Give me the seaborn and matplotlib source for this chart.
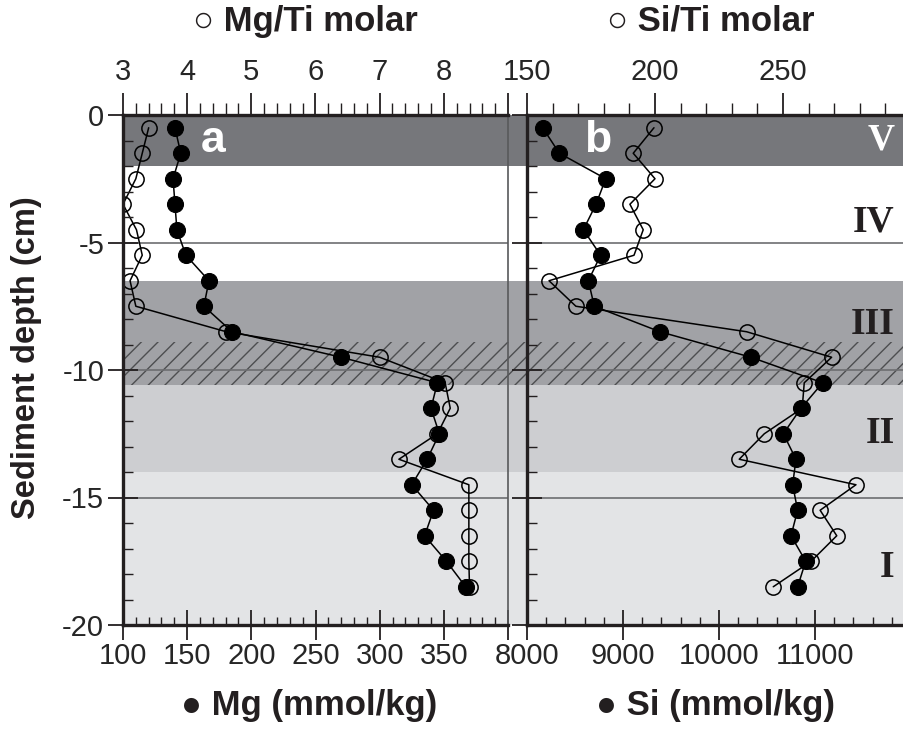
import matplotlib
matplotlib.use('Agg')
import pandas as pd
import matplotlib.pyplot as plt
import seaborn as sns
from matplotlib.ticker import MultipleLocator

sns.set_theme(style='white')
plt.rcParams['font.family'] = ['Liberation Sans', 'DejaVu Sans']
plt.rcParams['axes.unicode_minus'] = False
plt.rcParams['hatch.linewidth'] = 1.0

# profundidade das amostras (cm)
depth = [-0.5, -1.5, -2.5, -3.5, -4.5, -5.5, -6.5, -7.5, -8.5, -9.5,
         -10.5, -11.5, -12.5, -13.5, -14.5, -15.5, -16.5, -17.5, -18.5]

# painel a
mg = [140.5, 145, 139, 140.5, 142, 149, 167, 163, 185, 270,
      345, 340, 346.5, 337, 325, 342, 335, 352, 367]
mg_ti = [3.4, 3.3, 3.2, 3.0, 3.21, 3.3, 3.11, 3.2, 4.61, 7.0,
         8.02, 8.1, 7.9, 7.3, 8.39, 8.39, 8.39, 8.39, 8.4]

# painel b
si = [8163, 8337, 8820, 8719, 8587, 8767, 8639, 8701, 9385, 10333,
      11080, 10854, 10670, 10802, 10767, 10819, 10750, 10903, 10819]
si_ti = [199.6, 191.5, 200, 190.2, 195.4, 191.8, 158.6, 169.1, 235.8, 269,
         258.3, 257.5, 242.7, 232.9, 278.5, 264.5, 271, 261, 246.2]

# zonas
zone_names = ['V', 'IV', 'III', 'II', 'I']
zone_top = [0, -2, -6.5, -10.6, -14]
zone_bottom = [-2, -6.5, -10.6, -14, -20]
zone_label_depth = [-1.0, -4.2, -8.2, -12.5, -17.75]
hatch_top, hatch_bottom = -8.9, -10.6
grid_depths = [-5, -10, -15]

zone_colors = ['#76777b', '#ffffff', '#a1a2a6', '#cdced1', '#e3e4e6']

df_a = pd.DataFrame({'depth': depth, 'mg': mg, 'mg_ti': mg_ti})
df_b = pd.DataFrame({'depth': depth, 'si': si, 'si_ti': si_ti})

fig = plt.figure(figsize=(9.04, 7.30), dpi=100)
W, H = 904, 730
ax_a = fig.add_axes([123 / W, 105 / H, 385 / W, 510 / H])
ax_b = fig.add_axes([527 / W, 105 / H, 384 / W, 510 / H])
top_a = ax_a.twiny()
top_b = ax_b.twiny()

for ax, top in [(ax_a, top_a), (ax_b, top_b)]:
    ax.set_zorder(top.get_zorder() + 1)
    ax.patch.set_visible(False)

# fundo com as zonas (o painel a se estende pelo espaco entre os paineis)
gap_ext = (527 - 123) / 385
for top, xmax in [(top_a, gap_ext), (top_b, 1)]:
    for y0, y1, c in zip(zone_top, zone_bottom, zone_colors):
        top.axhspan(y1, y0, xmin=0, xmax=xmax, color=c, lw=0, clip_on=False, zorder=0)
    top.axhspan(hatch_bottom, hatch_top, xmin=0, xmax=xmax, facecolor='none',
                edgecolor='#4d4e50', hatch='//', lw=0, clip_on=False, zorder=0.5)
    for g in grid_depths:
        top.axhline(g, color='#6d6e71', lw=1.2, zorder=0.6)

open_kws = dict(color='black', lw=1.1, marker='o', markersize=11,
                markerfacecolor='none', markeredgecolor='black', markeredgewidth=1.1)
fill_kws = dict(color='black', lw=1.1, marker='o', markersize=11.5,
                markerfacecolor='black', markeredgecolor='black', markeredgewidth=0.8)

sns.lineplot(data=df_a, x='mg_ti', y='depth', ax=top_a, sort=False, estimator=None, **open_kws)
sns.lineplot(data=df_a, x='mg', y='depth', ax=ax_a, sort=False, estimator=None, **fill_kws)
sns.lineplot(data=df_b, x='si_ti', y='depth', ax=top_b, sort=False, estimator=None, **open_kws)
sns.lineplot(data=df_b, x='si', y='depth', ax=ax_b, sort=False, estimator=None, **fill_kws)

for ax in [ax_a, ax_b, top_a, top_b]:
    ax.set_ylim(-20, 0)

ax_a.set_xlim(100, 400)
ax_a.set_xticks([100, 150, 200, 250, 300, 350, 400], ['100', '150', '200', '250', '300', '350', ''])
ax_a.xaxis.set_minor_locator(MultipleLocator(10))
top_a.set_xlim(3, 9)
top_a.set_xticks([3, 4, 5, 6, 7, 8, 9], ['3', '4', '5', '6', '7', '8', ''])
top_a.xaxis.set_minor_locator(MultipleLocator(0.2))

ax_b.set_xlim(8000, 12000)
ax_b.set_xticks([8000, 9000, 10000, 11000, 12000], ['8000', '9000', '10000', '11000', ''])
ax_b.xaxis.set_minor_locator(MultipleLocator(200))
top_b.set_xlim(150, 300)
top_b.set_xticks([150, 200, 250, 300], ['150', '200', '250', ''])
top_b.xaxis.set_minor_locator(MultipleLocator(10))

for ax in [ax_a, ax_b]:
    ax.set_yticks([0, -5, -10, -15, -20])
    ax.yaxis.set_minor_locator(MultipleLocator(1))
    ax.tick_params(axis='x', which='major', direction='inout', length=21, width=1.3,
                   labelsize=21, pad=2, bottom=True, top=False, color='#231f20')
    ax.tick_params(axis='x', which='minor', direction='in', length=6, width=1,
                   bottom=True, top=False, color='#231f20')
    ax.tick_params(axis='y', which='major', direction='inout', length=21, width=1.3,
                   labelsize=21, pad=3, left=True, color='#231f20')
    ax.tick_params(axis='y', which='minor', direction='in', length=7, width=1,
                   left=True, color='#231f20')
    for side in ['left', 'top', 'bottom']:
        ax.spines[side].set_linewidth(2.4)
        ax.spines[side].set_color('#231f20')
    ax.spines['right'].set_linewidth(1.2)
    ax.spines['right'].set_color('#58595b')
    ax.set_ylabel('')

ax_b.tick_params(axis='y', labelleft=False)
ax_b.spines['right'].set_visible(False)

for top in [top_a, top_b]:
    top.tick_params(axis='x', which='major', direction='out', length=16, width=1.3,
                    labelsize=21, pad=5, top=True, bottom=False, color='#231f20')
    top.tick_params(axis='x', which='minor', direction='out', length=8.5, width=1,
                    top=True, bottom=False, color='#231f20')
    for s in top.spines.values():
        s.set_visible(False)

lab = dict(fontsize=25, fontweight='bold', color='#231f20')
ax_a.set_xlabel('\u25cf Mg (mmol/kg)', **lab)
ax_b.set_xlabel('\u25cf Si (mmol/kg)', **lab)
top_a.set_xlabel('\u25cb Mg/Ti molar', **lab)
top_b.set_xlabel('\u25cb Si/Ti molar', **lab)
ax_a.xaxis.set_label_coords(0.483, -0.125)
ax_b.xaxis.set_label_coords(0.49, -0.125)
top_a.xaxis.set_label_coords(0.473, 1.165)
top_b.xaxis.set_label_coords(0.479, 1.165)
ax_a.set_ylabel('Sediment depth (cm)', fontsize=23.5, fontweight='bold', color='#231f20')
ax_a.yaxis.set_label_coords(-0.21, 0.525)

ax_a.text(0.234, -1.0, 'a', transform=ax_a.get_yaxis_transform(), color='white',
          fontsize=32, fontweight='bold', ha='center', va='center')
ax_b.text(0.185, -1.0, 'b', transform=ax_b.get_yaxis_transform(), color='white',
          fontsize=32, fontweight='bold', ha='center', va='center')

for name, yd in zip(zone_names, zone_label_depth):
    ax_b.text(0.958, yd, name, transform=ax_b.get_yaxis_transform(),
              color='white' if name == 'V' else '#231f20', fontsize=27, fontweight='bold',
              family=['Liberation Serif', 'DejaVu Serif'], ha='right', va='center')

fig.savefig('out.png', dpi=100)
